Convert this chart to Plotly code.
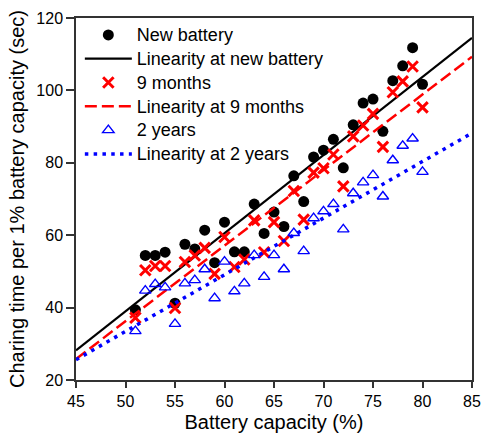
import plotly.graph_objects as go

# Battery capacity (%) at each measurement
capacity = list(range(51, 81))

# Charging time per 1% of capacity (sec)
new_battery = [39.4, 54.4, 54.4, 55.3, 41.2, 57.5, 56.2, 61.4, 52.4, 63.6,
               55.4, 55.4, 68.6, 60.5, 66.4, 62.4, 76.4, 69.3, 81.6, 83.5,
               86.5, 78.6, 90.5, 96.5, 97.6, 88.7, 102.7, 106.8, 111.8, 101.7]
nine_months = [37.2, 50.3, 51.5, 51.5, 39.9, 52.6, 54.4, 56.5, 49.3, 59.5,
               51.2, 53.3, 64.1, 55.3, 63.6, 58.4, 72.2, 64.3, 77.3, 78.5,
               82.3, 73.5, 87.3, 90.3, 93.5, 84.4, 99.5, 102.5, 106.6, 95.3]
two_years = [33.5, 44.7, 46.5, 45.6, 35.5, 46.7, 47.6, 50.6, 42.6, 52.7,
             44.5, 46.7, 54.5, 48.5, 54.5, 50.6, 60.6, 55.6, 64.7, 66.6,
             68.6, 61.6, 71.6, 74.6, 76.6, 70.7, 80.7, 84.7, 86.7, 77.5]

# Linear trend lines (end points across the axis range)
fit_x = [45, 85]
fit_new = [28.2, 114.5]
fit_9m = [25.8, 109.3]
fit_2y = [25.6, 88.2]

FONT = "Liberation Sans, Arial, sans-serif"


def legend_label(text):
    # larger glyphs than the legend's base size, keeping rows compact
    return f'<span style="font-size:18px">{text}</span>'


fig = go.Figure()
fig.add_trace(go.Scatter(
    x=capacity, y=new_battery, mode="markers", name=legend_label("New battery"),
    marker=dict(symbol="circle", size=11, color="black")))
fig.add_trace(go.Scatter(
    x=fit_x, y=fit_new, mode="lines", name=legend_label("Linearity at new battery"),
    line=dict(color="black", width=2.2)))
fig.add_trace(go.Scatter(
    x=capacity, y=nine_months, mode="markers", name=legend_label("9 months"),
    marker=dict(symbol="x-thin", size=10.5, color="red",
                line=dict(color="red", width=3))))
fig.add_trace(go.Scatter(
    x=fit_x, y=fit_9m, mode="lines", name=legend_label("Linearity at 9 months"),
    line=dict(color="red", width=2.5, dash="12px,5px")))
fig.add_trace(go.Scatter(
    x=capacity, y=two_years, mode="markers", name=legend_label("2 years"),
    marker=dict(symbol="triangle-up-open", size=10, color="blue",
                line=dict(color="blue", width=1.4))))
fig.add_trace(go.Scatter(
    x=fit_x, y=fit_2y, mode="lines", name=legend_label("Linearity at 2 years"),
    line=dict(color="blue", width=3.5, dash="3.5px,5.3px")))

axis_common = dict(
    showline=True, linecolor="#333333", linewidth=1.5, mirror=True,
    ticks="outside", tickwidth=1.5, tickcolor="#333333",
    showgrid=False, zeroline=False,
    tickfont=dict(family=FONT, size=16, color="black"),
)

fig.update_layout(
    width=491, height=445,
    margin=dict(l=76, r=10, t=13, b=65),
    paper_bgcolor="white", plot_bgcolor="white",
    font=dict(family=FONT, color="black"),
    xaxis=dict(range=[45, 85], tick0=45, dtick=5, ticklen=6,
               title=dict(text="Battery capacity (%)",
                          font=dict(family=FONT, size=20), standoff=6),
               **axis_common),
    yaxis=dict(range=[20, 120], tick0=20, dtick=20, ticklen=8,
               title=dict(text="Charing time per 1% battery capacity (sec)",
                          font=dict(family=FONT, size=20), standoff=6),
               **axis_common),
    legend=dict(x=0.0097, y=1.0, xanchor="left", yanchor="top",
                bgcolor="rgba(0,0,0,0)", font=dict(family=FONT, size=16),
                itemwidth=47, tracegroupgap=0),
    showlegend=True,
)

fig.write_html("out.html")
